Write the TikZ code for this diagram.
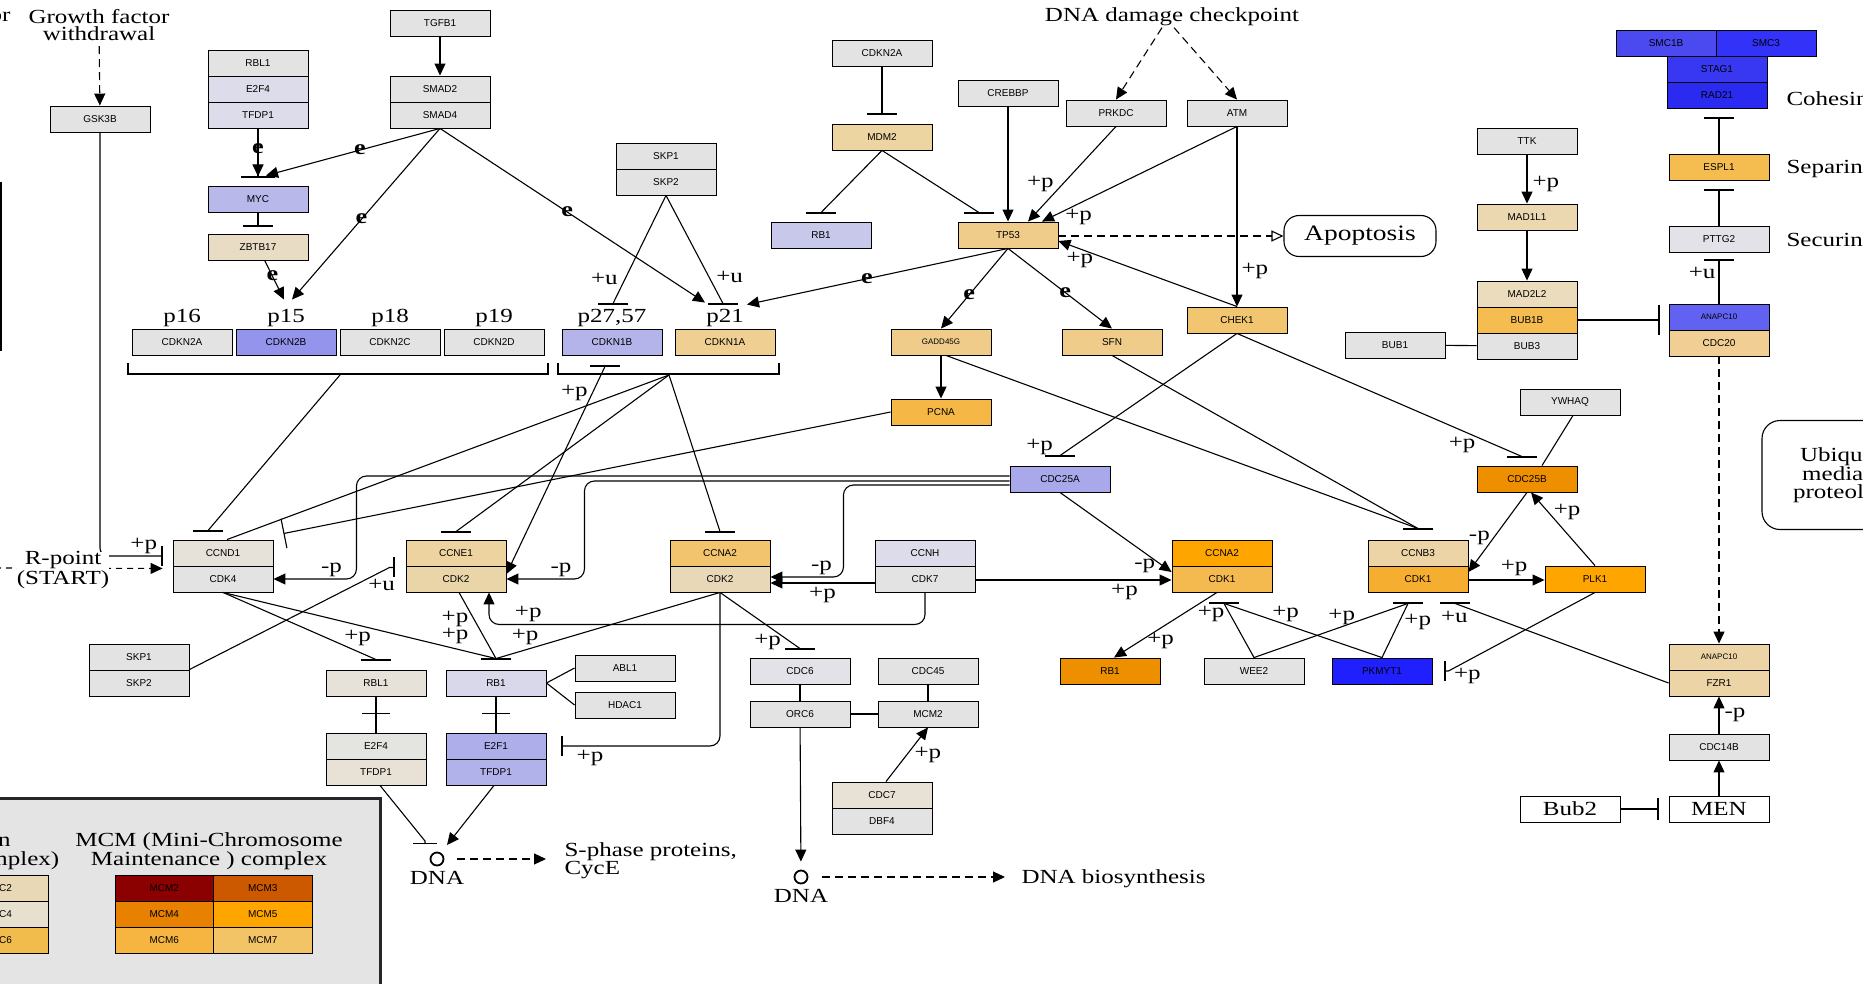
\documentclass[tikz,border=0pt]{standalone}
\usepackage{fontspec}
\usetikzlibrary{arrows.meta, positioning, shadows}
\newfontfamily\genefont{Liberation Sans}
\newfontfamily\keggfont{Liberation Serif}[FakeStretch=1.25]

\definecolor{cgray}{HTML}{E3E3E3}
\definecolor{clav}{HTML}{DCDCEA}
\definecolor{cmyc}{HTML}{B8B8EA}
\definecolor{cbeige}{HTML}{E8DCC4}
\definecolor{cblue2}{HTML}{9494EC}
\definecolor{cblue3}{HTML}{B4B4EA}
\definecolor{ctan}{HTML}{F0D092}
\definecolor{ctan2}{HTML}{EDD5A2}
\definecolor{clav2}{HTML}{C8C8EA}
\definecolor{ctp}{HTML}{F0CC8A}
\definecolor{corange1}{HTML}{F2C670}
\definecolor{corange2}{HTML}{F5B847}
\definecolor{cblue4}{HTML}{A8A8EA}
\definecolor{cccnd}{HTML}{E6E2DA}
\definecolor{cccne}{HTML}{EDD3A0}
\definecolor{ccdktwo}{HTML}{EAD5A8}
\definecolor{cccnaa}{HTML}{F2C46E}
\definecolor{ccdka}{HTML}{E8D8B8}
\definecolor{corange}{HTML}{FFA500}
\definecolor{ccdkone}{HTML}{F4B94F}
\definecolor{ccdkb}{HTML}{F5AE30}
\definecolor{cdark}{HTML}{EE8F00}
\definecolor{cblue}{HTML}{2020FF}
\definecolor{canapc}{HTML}{ECD4A6}
\definecolor{csmca}{HTML}{4A4AF0}
\definecolor{csmcb}{HTML}{3232F8}
\definecolor{cstag}{HTML}{3838F2}
\definecolor{crad}{HTML}{2A2AF0}
\definecolor{cespl}{HTML}{F5BC50}
\definecolor{cpttg}{HTML}{E2E2E8}
\definecolor{capc}{HTML}{6262F2}
\definecolor{ccdc}{HTML}{F0CE94}
\definecolor{cmada}{HTML}{ECD8B0}
\definecolor{cmadb}{HTML}{ECDCBE}
\definecolor{crblb}{HTML}{E6E2DA}
\definecolor{cefb}{HTML}{E4E4E0}
\definecolor{ctfb}{HTML}{E8E2D6}
\definecolor{crbb}{HTML}{D8D8EA}
\definecolor{cefa}{HTML}{AEAEEA}
\definecolor{ctfc}{HTML}{B2B2EA}
\definecolor{clegend}{HTML}{E4E4E4}
\definecolor{cmcma}{HTML}{8B0000}
\definecolor{cmcmb}{HTML}{CC5800}
\definecolor{cmcmc}{HTML}{E88000}
\definecolor{cmcmd}{HTML}{FFA500}
\definecolor{cmcme}{HTML}{F5B540}
\definecolor{cmcmf}{HTML}{F2C466}
\definecolor{corca}{HTML}{E8D8B6}
\definecolor{corcb}{HTML}{E8E0CE}
\definecolor{corcc}{HTML}{F2BC4C}

\tikzset{
  gene/.style={draw=black, line width=0.9pt, minimum width=100pt, minimum height=26pt,
    inner sep=0pt, font=\genefont\fontsize{10}{10}\selectfont,
    general shadow={fill=black!75, shadow xshift=1.4pt, shadow yshift=-1.4pt}},
  smallgene/.style={gene, font=\genefont\fontsize{8}{8}\selectfont},
  boxlab/.style={gene, fill=white, font=\keggfont\fontsize{20}{20}\selectfont},
  act/.style={-{Triangle[length=12pt,width=11pt]}},
  actbar/.style={-{Triangle[length=12pt,width=11pt]Bar[width=34pt]}, shorten >=8pt},
  inh/.style={-{Bar[width=30pt]}},
  dsh/.style={dash pattern=on 8pt off 5pt},
  lab/.style={font=\keggfont\fontsize{20}{20}\selectfont, inner sep=1pt},
  elab/.style={font=\keggfont\bfseries\fontsize{21}{21}\selectfont, inner sep=0pt},
}

\begin{document}
\begin{tikzpicture}[x=1pt, y=-1pt, line width=1.1pt]
\fill[white] (0,0) rectangle (1863,984);
\useasboundingbox (0,0) rectangle (1863,984);

% left legend and cut box
\draw[line width=1.5pt] (-60,183) rectangle (1,350);
\draw[line width=3pt, draw=black!85, fill=clegend] (-20,798) rectangle (380,1010);
\node[lab, align=center, font=\keggfont\fontsize{20}{17}\selectfont] (mcmtitle) at (209,851) {MCM (Mini-Chromosome\\Maintenance ) complex};
\node[lab, align=center, font=\keggfont\fontsize{20}{17}\selectfont] (orctitle) at (-55,851) {ORC (Origin\\Recognition Complex)};
\node[gene, minimum width=98.5pt, fill=cmcma] (mcm2l) at (164.25,888) {MCM2};
\node[gene, minimum width=98.5pt, fill=cmcmb] (mcm3l) at (262.75,888) {MCM3};
\node[gene, minimum width=98.5pt, fill=cmcmc] (mcm4l) at (164.25,914) {MCM4};
\node[gene, minimum width=98.5pt, fill=cmcmd] (mcm5l) at (262.75,914) {MCM5};
\node[gene, minimum width=98.5pt, fill=cmcme] (mcm6l) at (164.25,940) {MCM6};
\node[gene, minimum width=98.5pt, fill=cmcmf] (mcm7l) at (262.75,940) {MCM7};
\node[gene, fill=corca] (orc2l) at (-2,888) {ORC2};
\node[gene, fill=corcb] (orc4l) at (-2,914) {ORC4};
\node[gene, fill=corcc] (orc6l) at (-2,940) {ORC6};

% top left
\node[lab, align=center, font=\keggfont\fontsize{20}{17}\selectfont] (gfw) at (99,25) {Growth factor\\withdrawal};
\node[lab, anchor=east] (orx) at (12,17) {or};
\node[gene, fill=cgray] (tgfb1) at (440,23) {TGFB1};
\node[gene, fill=cgray] (smad2) at (440,89) {SMAD2};
\node[gene, fill=cgray] (smad4) at (440,115) {SMAD4};
\node[gene, fill=cgray] (rbl1a) at (258,63) {RBL1};
\node[gene, fill=clav] (e2f4a) at (258,89) {E2F4};
\node[gene, fill=clav] (tfdp1a) at (258,115) {TFDP1};
\node[gene, fill=cgray] (gsk3b) at (100,119) {GSK3B};
\node[gene, fill=cmyc] (myc) at (258,199) {MYC};
\node[gene, fill=cbeige] (zbtb17) at (258,247) {ZBTB17};
\node[gene, fill=cgray] (cdkn2a) at (182,342) {CDKN2A};
\node[gene, fill=cblue2] (cdkn2b) at (286,342) {CDKN2B};
\node[gene, fill=cgray] (cdkn2c) at (390,342) {CDKN2C};
\node[gene, fill=cgray] (cdkn2d) at (494,342) {CDKN2D};
\node[gene, fill=cblue3] (cdkn1b) at (612,342) {CDKN1B};
\node[gene, fill=ctan] (cdkn1a) at (725,342) {CDKN1A};
\node[lab, above=0pt of cdkn2a] (p16) {p16};
\node[lab, above=0pt of cdkn2b] (p15) {p15};
\node[lab, above=0pt of cdkn2c] (p18) {p18};
\node[lab, above=0pt of cdkn2d] (p19) {p19};
\node[lab, above=0pt of cdkn1b] (p2757) {p27,57};
\node[lab, above=0pt of cdkn1a] (p21) {p21};
\node[gene, fill=cgray] (skp1b) at (666,156) {SKP1};
\node[gene, fill=cgray] (skp2b) at (666,182) {SKP2};

% top middle
\node[lab] (ddc) at (1172,17) {DNA damage checkpoint};
\node[gene, fill=cgray] (cdkn2at) at (882,53) {CDKN2A};
\node[gene, fill=ctan2] (mdm2) at (882,137) {MDM2};
\node[gene, fill=clav2] (rb1t) at (821,235) {RB1};
\node[gene, fill=ctp] (tp53) at (1008,235) {TP53};
\node[gene, fill=cgray] (crebbp) at (1008,93) {CREBBP};
\node[gene, fill=cgray] (prkdc) at (1116,113) {PRKDC};
\node[gene, fill=cgray] (atm) at (1237,113) {ATM};
\node[gene, fill=corange1] (chek1) at (1237,320) {CHEK1};
\node[smallgene, fill=ctp] (gadd45g) at (941,342) {GADD45G};
\node[gene, fill=ctp] (sfn) at (1112,342) {SFN};
\node[gene, fill=corange2] (pcna) at (941,412) {PCNA};
\node[gene, fill=cblue4] (cdc25a) at (1060,479) {CDC25A};
\node[draw, line width=1.1pt, rounded corners=15pt, minimum width=152pt, minimum height=41pt,
  font=\keggfont\fontsize{22}{22}\selectfont] (apop) at (1360,236) {Apoptosis};

% top right
\node[gene, fill=csmca] (smc1b) at (1666,43) {SMC1B};
\node[gene, fill=csmcb] (smc3) at (1766,43) {SMC3};
\node[gene, fill=cstag] (stag1) at (1717,69) {STAG1};
\node[gene, fill=crad] (rad21) at (1717,95) {RAD21};
\node[gene, fill=cespl] (espl1) at (1719,167) {ESPL1};
\node[gene, fill=cpttg] (pttg2) at (1719,239) {PTTG2};
\node[smallgene, fill=capc] (anapc10a) at (1719,317) {ANAPC10};
\node[gene, fill=ccdc] (cdc20) at (1719,343) {CDC20};
\node[lab, anchor=west] (cohesin) at (1785,99) {Cohesin};
\node[lab, anchor=west] (separin) at (1785,169) {Separin};
\node[lab, anchor=west] (securin) at (1785,240) {Securin};
\node[gene, fill=cgray] (ttk) at (1527,141) {TTK};
\node[gene, fill=cmada] (mad1l1) at (1527,217) {MAD1L1};
\node[gene, fill=cmadb] (mad2l2) at (1527,294) {MAD2L2};
\node[gene, fill=cespl] (bub1b) at (1527,320) {BUB1B};
\node[gene, fill=cgray] (bub3) at (1527,346) {BUB3};
\node[gene, fill=cgray] (bub1) at (1395,345) {BUB1};
\node[draw, line width=1.1pt, rounded corners=18pt, minimum width=172pt, minimum height=109pt,
  align=center, font=\keggfont\fontsize{20}{17.5}\selectfont] (ubiq) at (1848,475) {Ubiquitin\\mediated\\proteolysis};

% cyclin row
\node[gene, fill=cccnd] (ccnd1) at (223,553) {CCND1};
\node[gene, fill=cgray] (cdk4) at (223,579) {CDK4};
\node[gene, fill=cccne] (ccne1) at (456,553) {CCNE1};
\node[gene, fill=ccdktwo] (cdk2e) at (456,579) {CDK2};
\node[gene, fill=cccnaa] (ccna2a) at (720,553) {CCNA2};
\node[gene, fill=ccdka] (cdk2a) at (720,579) {CDK2};
\node[gene, fill=clav] (ccnh) at (925,553) {CCNH};
\node[gene, fill=cgray] (cdk7) at (925,579) {CDK7};
\node[gene, fill=corange] (ccna2b) at (1222,553) {CCNA2};
\node[gene, fill=ccdkone] (cdk1a) at (1222,579) {CDK1};
\node[gene, fill=canapc] (ccnb3) at (1418,553) {CCNB3};
\node[gene, fill=ccdkb] (cdk1b) at (1418,579) {CDK1};
\node[gene, fill=corange] (plk1) at (1595,579) {PLK1};
\node[gene, fill=cdark] (cdc25b) at (1527,479) {CDC25B};
\node[gene, fill=cgray] (ywhaq) at (1570,402) {YWHAQ};

% lower part
\node[gene, fill=cgray] (skp1c) at (139,657) {SKP1};
\node[gene, fill=cgray] (skp2c) at (139,683) {SKP2};
\node[gene, fill=crblb] (rbl1b) at (376,683) {RBL1};
\node[gene, fill=cefb] (e2f4b) at (376,746) {E2F4};
\node[gene, fill=ctfb] (tfdp1b) at (376,772) {TFDP1};
\node[gene, fill=crbb] (rb1b) at (496,683) {RB1};
\node[gene, fill=cefa] (e2f1) at (496,746) {E2F1};
\node[gene, fill=ctfc] (tfdp1c) at (496,772) {TFDP1};
\node[gene, fill=cgray] (abl1) at (625,668) {ABL1};
\node[gene, fill=cgray] (hdac1) at (625,705) {HDAC1};
\node[gene, fill=cpttg] (cdc6) at (800,671) {CDC6};
\node[gene, fill=cgray] (orc6) at (800,714) {ORC6};
\node[gene, fill=cgray] (cdc45) at (928,671) {CDC45};
\node[gene, fill=cgray] (mcm2) at (928,714) {MCM2};
\node[gene, fill=ctfb] (cdc7) at (882,795) {CDC7};
\node[gene, fill=cgray] (dbf4) at (882,821) {DBF4};
\node[gene, fill=cdark] (rb1c) at (1110,671) {RB1};
\node[gene, fill=cgray] (wee2) at (1254,671) {WEE2};
\node[gene, fill=cblue] (pkmyt1) at (1382,671) {PKMYT1};
\node[smallgene, fill=canapc] (anapc10b) at (1719,657) {ANAPC10};
\node[gene, fill=canapc] (fzr1) at (1719,683) {FZR1};
\node[gene, fill=cgray] (cdc14b) at (1719,747) {CDC14B};
\node[boxlab] (bub2) at (1570,809) {Bub2};
\node[boxlab] (men) at (1719,809) {MEN};
\node[circle, draw, line width=1.8pt, minimum size=13pt, inner sep=0pt] (dna1) at (437,859) {};
\node[lab, below=3pt of dna1] (dnatext1) {DNA};
\node[circle, draw, line width=1.8pt, minimum size=13pt, inner sep=0pt] (dna2) at (801,877) {};
\node[lab, below=3pt of dna2] (dnatext2) {DNA};
\node[lab, align=left, anchor=west, font=\keggfont\fontsize{20}{18}\selectfont] (sphase) at (563,861) {S-phase proteins,\\CycE};
\node[lab, anchor=west] (dnabio) at (1020,879) {DNA biosynthesis};

% brackets
\draw (128,363) |- (548,374) -- (548,363);
\draw (558,363) |- (779,374) -- (779,363);
\coordinate (b2) at (340,375);
\coordinate (b1) at (669,375);
\coordinate (rp0) at (-5,568);

% top left connectors
\draw[act, dsh, shorten <=4pt] (gfw) -- (gsk3b);
\draw[act] (tgfb1) -- (smad2);
\draw[actbar] (tfdp1a) -- node[elab, pos=0.35]{e} (myc);
\draw[act] (smad4.south) -- node[elab, pos=0.46]{e} ([xshift=8pt,yshift=10pt]myc.north);
\draw[act] (smad4.south) -- node[elab, pos=0.53]{e} ([xshift=6pt,yshift=29pt]cdkn2b.north);
\draw[act] (zbtb17) -- node[elab, pos=0.4]{e} ([xshift=-2pt,yshift=29pt]cdkn2b.north);
\draw[act] (smad4.south) -- node[elab, pos=0.48]{e} ([xshift=-20pt,yshift=26pt]cdkn1a.north);
\draw[inh, shorten >=7pt] (myc) -- (zbtb17);
\draw[inh] (skp2b.south) -- node[lab, pos=0.77, left=6pt]{+u} ([xshift=1pt,yshift=25pt]cdkn1b.north) -- ++(0,1);
\draw[inh] (skp2b.south) -- node[lab, pos=0.75, right=6pt]{+u} ([xshift=-2pt,yshift=25pt]cdkn1a.north) -- ++(0,1);

% p53 module
\draw[inh, shorten >=9pt] (cdkn2at) -- (mdm2);
\draw[inh] (mdm2.south) -- ([yshift=9pt]rb1t.north) -- ++(0,1);
\draw[inh] (mdm2.south) -- ([xshift=-29pt,yshift=9pt]tp53.north) -- ++(0,1);
\draw[act] (crebbp) -- (tp53);
\draw[act] (prkdc.south) -- node[lab, pos=0.6, left=8pt]{+p} ([xshift=20pt]tp53.north);
\draw[act] (atm.south) -- node[lab, pos=0.95, right=12pt]{+p} ([xshift=34pt]tp53.north);
\draw[act] (atm) -- node[lab, pos=0.8, right=3pt]{+p} (chek1);
\draw[act] (chek1.north) -- node[lab, pos=0.88, below=2pt]{+p} ([yshift=-6pt]tp53.east);
\draw[dsh, -{Triangle[open, length=12pt, width=11pt]}] ([yshift=-1pt]tp53.east) -- (apop.west);
\draw[act, dsh] ([xshift=-10pt]ddc.south) -- (prkdc.north);
\draw[act, dsh] ([xshift=2pt]ddc.south) -- (atm.north);
\draw[act] (tp53.south) -- node[elab, pos=0.54]{e} ([xshift=22pt,yshift=24pt]cdkn1a.north);
\draw[act] (tp53.south) -- node[elab, pos=0.58]{e} (gadd45g.north);
\draw[act] (tp53.south) -- node[elab, pos=0.55]{e} (sfn.north);
\draw[act] (gadd45g) -- (pcna);
\draw[inh] ([xshift=5pt]gadd45g.south) -- ([yshift=11pt]ccnb3.north) -- ++(0,1);
\draw[inh] (sfn.south) -- ([yshift=11pt]ccnb3.north) -- ++(0,1);
\draw[inh] (chek1.south) -- node[lab, pos=0.93, left=18pt]{+p} ([yshift=10pt]cdc25a.north) -- ++(0,1);
\draw[inh] (chek1.south) -- node[lab, pos=0.79, below=5pt]{+p} ([xshift=-5pt,yshift=9pt]cdc25b.north) -- ++(0,1);

% CKI to cyclins
\draw[inh] (b2) -- ([xshift=-15pt,yshift=9pt]ccnd1.north) -- ++(0,1);
\draw (b1) -- ([xshift=4pt]ccnd1.north);
\draw[inh] (pcna.west) -- ([xshift=10pt,yshift=6pt]ccnd1.north east);
\draw[inh] (b1) -- ([yshift=8pt]ccne1.north) -- ++(0,1);
\draw[inh] (b1) -- ([yshift=8pt]ccna2a.north) -- ++(0,1);
\draw[{Triangle[length=12pt,width=11pt]}-{Bar[width=30pt]}] ([yshift=5pt]cdk2e.east) -- node[lab, pos=0.87, left=3pt]{+p} ([xshift=-7pt,yshift=-11pt]cdkn1b.south) -- ++(0,-1);

% CDC25A and CDK7
\draw[act, rounded corners=10pt] ([yshift=3pt]cdc25a.west) -| ([xshift=83pt]cdk4.east) -- node[lab, pos=0.3, above=1pt]{-p} (cdk4.east);
\draw[act, rounded corners=10pt] ([yshift=-2pt]cdc25a.west) -| ([xshift=78pt]cdk2e.east) -- node[lab, pos=0.3, above=1pt]{-p} (cdk2e.east);
\draw[act, rounded corners=10pt] ([yshift=-6pt]cdc25a.west) -| ([xshift=73pt,yshift=2pt]cdk2a.east) -- node[lab, pos=0.3, above=1pt]{-p} ([yshift=2pt]cdk2a.east);
\draw[act] (cdc25a.south) -- node[lab, pos=0.92, left=6pt]{-p} ([yshift=7pt]cdk1a.west);
\draw[act] ([yshift=-4pt]cdk7.west) -- node[lab, below=3pt]{+p} ([yshift=-4pt]cdk2a.east);
\draw[act] ([yshift=-1pt]cdk7.east) -- node[lab, pos=0.76, below=3pt]{+p} ([yshift=-1pt]cdk1a.west);
\draw[act, rounded corners=10pt] (cdk7.south) -- ++(0,32) -| node[lab, pos=0.455, above=1pt]{+p} ([xshift=33pt]cdk2e.south);

% G1/S targets
\draw[-{Bar[width=20pt]}, rounded corners=10pt] (cdk2a.south) |- node[lab, pos=0.91, below=3pt]{+p} ([xshift=15pt]e2f1.east);
\draw[inh] (cdk2a.south) -- node[lab, pos=0.88, left=8pt]{+p} ([yshift=9pt]cdc6.north) -- ++(0,1);
\draw[inh] (cdk2a.south) -- node[lab, pos=0.87, above=4pt]{+p} ([yshift=11pt]rb1b.north) -- ++(0,1);
\draw[inh] (cdk4.south) -- node[lab, pos=0.88, above=4pt]{+p} ([yshift=10pt]rbl1b.north) -- ++(0,1);
\draw[inh] (cdk4.south) -- node[lab, pos=0.85, above=3pt]{+p} ([yshift=11pt]rb1b.north) -- ++(0,1);
\draw[inh] ([xshift=3pt]cdk2e.south) -- node[lab, pos=0.4, left=4pt]{+p} ([yshift=11pt]rb1b.north) -- ++(0,1);
\draw[-{Bar[width=20pt]}] (skp2c.north east) -- node[lab, pos=0.96, below=6pt]{+u} ([xshift=-16pt,yshift=-1pt]ccne1.south west) -- ([xshift=-11pt,yshift=-1pt]ccne1.south west);
\draw[-{Bar[width=20pt]}, rounded corners=8pt] (gsk3b.south) |- node[lab, pos=0.85, above=1pt]{+p} ([xshift=-10pt,yshift=-3pt]ccnd1.west);
\draw[act, dash pattern=on 6pt off 5pt] (rp0) -- ([xshift=-10pt,yshift=-2pt]ccnd1.south west);
\node[lab, align=center, fill=white, inner sep=0pt, font=\keggfont\fontsize{20}{16}\selectfont] (rpoint) at (63,570) {R-point\\(START)};

% RB and E2F
\draw (rbl1b) -- (e2f4b);
\draw[-{Bar[width=28pt]}] (rbl1b.south) -- ([yshift=-18pt]rbl1b.south);
\draw (rb1b) -- (e2f1);
\draw[-{Bar[width=28pt]}] (rb1b.south) -- ([yshift=-18pt]rb1b.south);
\draw (rb1b.east) -- (abl1.west);
\draw (rb1b.east) -- (hdac1.west);
\draw[-{Bar[width=24pt]}] ([xshift=4pt]tfdp1b.south) -- ([xshift=-12pt,yshift=18pt]dna1.center) -- ([xshift=-12pt,yshift=15pt]dna1.center);
\draw[act] ([xshift=-2pt]tfdp1c.south) -- ([xshift=10pt,yshift=14pt]dna1.center);
\draw[act, dsh, shorten <=20pt, shorten >=17pt] (dna1.center) -- (dna1.center -| sphase.west);

% replication
\draw (cdc6) -- (orc6);
\draw (orc6) -- (mcm2);
\draw (cdc45) -- (mcm2);
\draw[act] ([xshift=4pt]cdc7.north) -- node[lab, pos=0.5, right=6pt]{+p} (mcm2.south);
\draw[act, shorten >=8pt] (orc6) -- (dna2);
\draw[act, dsh, shorten <=21pt, shorten >=15pt] (dna2.center) -- (dna2.center -| dnabio.west);

% G2/M
\draw[act] (cdc25b.south) -- node[lab, pos=0.575, left=2pt]{-p} ([yshift=7pt]cdk1b.east);
\draw[act] (plk1.north) -- node[lab, pos=0.73, right=4pt]{+p} ([xshift=4pt]cdc25b.south);
\draw[act] ([yshift=-1pt]cdk1b.east) -- node[lab, pos=0.6, above=3pt]{+p} ([yshift=-1pt]plk1.west);
\draw ([xshift=3pt]ywhaq.south) -- ([xshift=15pt]cdc25b.north);
\draw[-{Bar[width=20pt]}] (plk1.south) -- ([xshift=16pt]pkmyt1.east) -- node[lab, pos=1, right=8pt, yshift=-5pt]{+p} ([xshift=12pt]pkmyt1.east);
\draw[inh] (pkmyt1.north) -- node[lab, pos=0.65, right=4pt]{+p} ([xshift=-10pt,yshift=-11pt]cdk1b.south) -- ++(0,-1);
\draw[inh] (wee2.north) -- node[lab, pos=0.57, above=0pt]{+p} ([xshift=-10pt,yshift=-11pt]cdk1b.south) -- ++(0,-1);
\draw[inh] (wee2.north) -- node[lab, pos=0.8, left=4pt]{+p} ([xshift=2pt,yshift=-11pt]cdk1a.south) -- ++(0,-1);
\draw[inh] (pkmyt1.north) -- node[lab, pos=0.61, above=1pt]{+p} ([xshift=2pt,yshift=-11pt]cdk1a.south) -- ++(0,-1);
\draw[act] ([xshift=-5pt]cdk1a.south) -- node[lab, pos=0.75, right=6pt]{+p} ([xshift=4pt]rb1c.north);
\draw[inh] (fzr1.west) -- node[lab, pos=0.93, below left=1pt]{+u} ([xshift=37pt,yshift=-11pt]cdk1b.south) -- ++(0,-1);

% spindle checkpoint and cohesin
\draw[act, dsh] (cdc20) -- (anapc10b);
\draw[inh, shorten >=7pt] (anapc10a) -- node[lab, pos=0.6, left=2pt]{+u} (pttg2);
\draw[inh, shorten >=9pt] (pttg2) -- (espl1);
\draw[inh, shorten >=9pt] (espl1.north) -- (espl1.north |- rad21.south);
\draw[act] (ttk) -- node[lab, pos=0.6, right=4pt]{+p} (mad1l1);
\draw[act] (mad1l1) -- (mad2l2);
\draw[inh, shorten >=9pt] (bub1b.east) -- (bub1b.east -| anapc10a.west);
\draw (bub1) -- (bub3);
\draw[act] (cdc14b) -- node[lab, pos=0.5, right=4pt]{-p} (fzr1);
\draw[act] (men) -- (cdc14b);
\draw[-{Bar[width=22pt]}, shorten >=10pt] (bub2) -- (men);
\end{tikzpicture}
\end{document}
